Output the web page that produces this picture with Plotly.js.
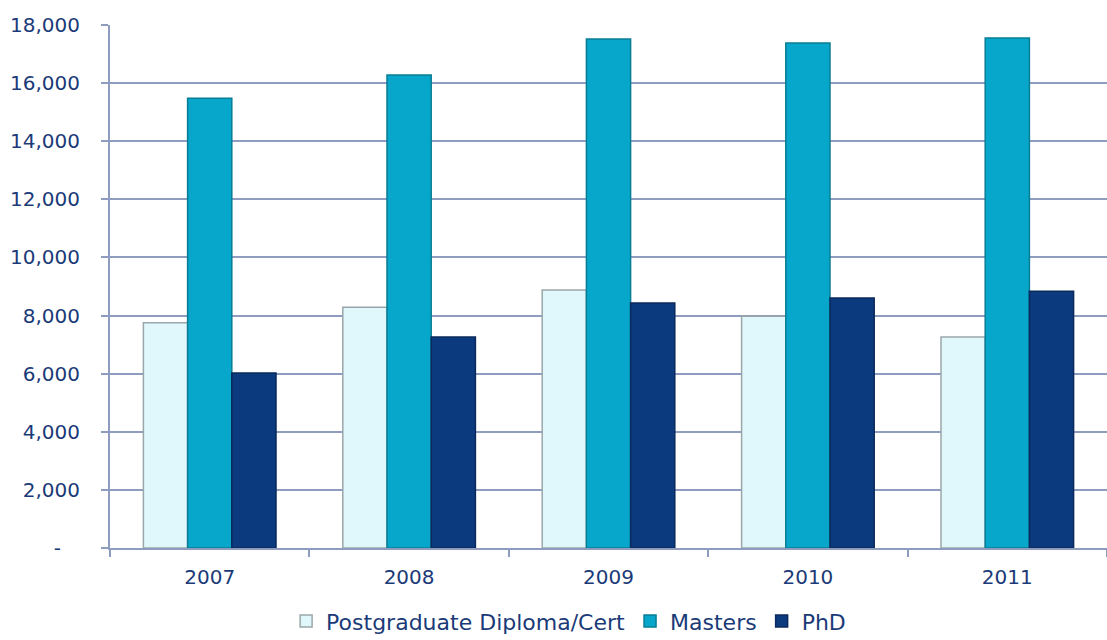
<!DOCTYPE html>
<html>
<head>
<meta charset="utf-8">
<script src="https://cdn.plot.ly/plotly-3.0.1.min.js"></script>
<style>html,body{margin:0;padding:0;background:#fff;}#chart{width:1107px;height:640px;}</style>
</head>
<body>
<div id="chart"></div>
<script>
const years = ["2007", "2008", "2009", "2010", "2011"];
const postgradDiploma = [7750, 8290, 8880, 7980, 7260];
const masters = [15480, 16280, 17520, 17380, 17550];
const phd = [6020, 7260, 8430, 8600, 8840];
const yTickVals = [0, 2000, 4000, 6000, 8000, 10000, 12000, 14000, 16000, 18000];
const yTickText = ["-\u00a0\u00a0\u00a0", "2,000", "4,000", "6,000", "8,000", "10,000", "12,000", "14,000", "16,000", "18,000"];

const textColor = "#1b3a78";
const gridColor = "#8e9dbf";

const traces = [
  {type: "bar", name: "Postgraduate Diploma/Cert", x: years, y: postgradDiploma,
   marker: {color: "#e0f8fb", line: {color: "#9aa7aa", width: 1.5}}},
  {type: "bar", name: "Masters", x: years, y: masters,
   marker: {color: "#06a7cb", line: {color: "#0a7d96", width: 1.5}}},
  {type: "bar", name: "PhD", x: years, y: phd,
   marker: {color: "#0c3a7e", line: {color: "#0a2a5c", width: 1.5}}}
];

const layout = {
  width: 1107, height: 640,
  margin: {l: 110, r: 0, t: 25, b: 92, autoexpand: false},
  paper_bgcolor: "#ffffff", plot_bgcolor: "#ffffff",
  font: {family: "DejaVu Sans, Verdana, sans-serif", size: 20, color: textColor},
  barmode: "group", bargap: 0.335, bargroupgap: 0,
  showlegend: true,
  legend: {orientation: "h", x: 0.46, xanchor: "center", y: -0.1, yanchor: "top",
           font: {size: 22, color: textColor}, itemwidth: 30, traceorder: "normal",
           tracegroupgap: 0},
  xaxis: {type: "category", showline: true, linecolor: gridColor, linewidth: 2,
          ticks: "outside", tickson: "boundaries", ticklen: 7, tickcolor: gridColor, tickwidth: 2,
          ticklabelstandoff: 10,
          showgrid: false, tickfont: {size: 20, color: textColor}},
  yaxis: {range: [0, 18000], tickvals: yTickVals, ticktext: yTickText,
          showline: true, linecolor: gridColor, linewidth: 2,
          showgrid: true, gridcolor: gridColor, gridwidth: 2, zeroline: false,
          ticks: "outside", ticklen: 7, tickcolor: gridColor, tickwidth: 2,
          ticklabelstandoff: 17,
          tickfont: {size: 20, color: textColor}}
};

Plotly.newPlot("chart", traces, layout, {displayModeBar: false, staticPlot: true});
</script>
</body>
</html>
